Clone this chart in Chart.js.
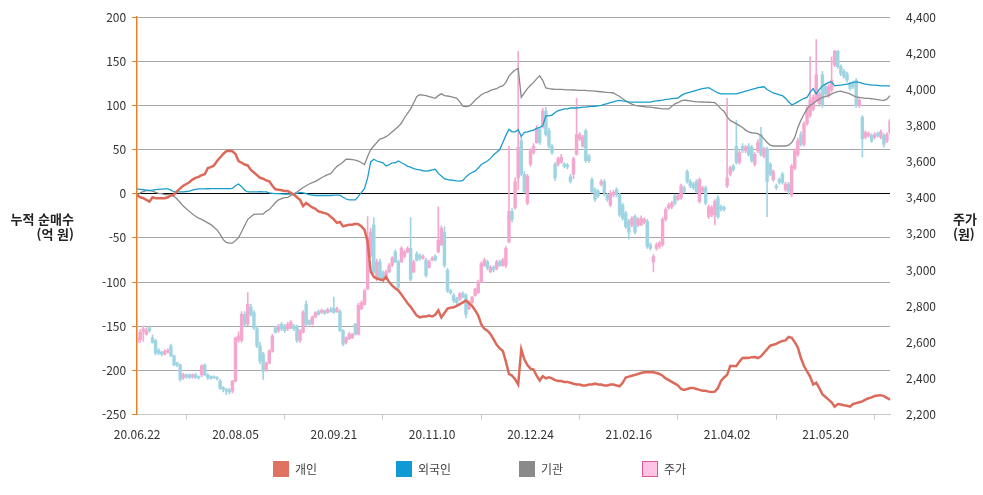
<!DOCTYPE html>
<html lang="ko">
<head>
<meta charset="UTF-8">
<title>누적 순매수와 주가</title>
<script src="https://cdn.jsdelivr.net/npm/chart.js"></script>
<style>
  body { margin: 0; background: #fff; font-family: 'Noto Sans CJK KR', 'Noto Sans', sans-serif; }
  #wrap { position: relative; width: 983px; height: 495px; }
  .axis-title { position: absolute; font-size: 13px; font-weight: bold; color: #222; line-height: 15px; }
  #legend { position: absolute; left: 273px; top: 460px; display: flex; }
  #legend .item { width: 123px; display: flex; align-items: center; font-size: 12px; color: #444; }
  #legend .box { width: 16px; height: 16px; margin-right: 6px; box-sizing: border-box; }
</style>
</head>
<body>
<div id="wrap">
  <canvas id="chart" width="983" height="495"></canvas>
  <div class="axis-title" style="left:0; top:211px; width:74px; text-align:right">누적 순매수<br>(억 원)</div>
  <div class="axis-title" style="left:953px; top:211px">주가<br>(원)</div>
  <div id="legend"></div>
</div>

<script>
  // x축: 거래일 순번, 32거래일마다 날짜 표시
  const tickLabels = ['20.06.22', '20.08.05', '20.09.21', '20.11.10', '20.12.24', '21.02.16', '21.04.02', '21.05.20'];
  const tickStep = 32;

  // 누적 순매수 (억 원)
  const indiv = [
    -2, -4, -5, -7, -9, -4, -5, -5, -5, -5,
    -4, -2, -1, 3, 6, 9, 11, 13, 16, 18,
    19, 21, 22, 29, 30, 32, 37, 41, 45, 48,
    48.5, 48, 45, 37, 35, 33, 32, 27, 24, 21,
    18, 17, 15, 14, 9, 5, 4.5, 4, 3, 3,
    1, -1, -4, -7, -14, -10.5, -13, -15.5, -17, -20,
    -21, -22, -23, -26, -29, -33, -32, -37, -36, -35,
    -35, -34, -34.5, -37, -41, -54, -88, -94, -96, -97,
    -98, -94, -100, -104, -107, -109.5, -114, -119, -124, -128,
    -133, -138, -140, -139, -139, -138, -139, -137, -132, -140,
    -135, -130, -129, -128.6, -127, -125, -123, -121, -124, -127,
    -132, -138, -148, -153, -155, -159, -165, -171, -175, -178,
    -190, -204, -206, -210, -216, -176, -187.5, -194, -198, -199,
    -206, -211.5, -206.6, -209, -207.7, -209, -211, -212, -212, -213,
    -213, -214, -215, -216, -216, -217, -217, -216, -216, -215,
    -216, -216, -217, -217, -216, -216, -217, -218, -214, -208,
    -207, -206, -205, -204, -203, -202, -202, -202, -202, -203,
    -204, -206, -209, -211, -213, -215, -217, -221, -222, -221,
    -220, -220, -221, -222, -223, -223, -224, -224.5, -224, -220,
    -212, -208, -205, -195, -195, -195, -190, -186, -185.6, -186,
    -185, -184.8, -186, -184, -180, -176, -172, -171, -170, -168,
    -166.6, -166, -162, -163, -168, -174, -186, -195, -201, -207,
    -216, -214, -220, -227, -230, -233, -236, -241, -238, -238.5,
    -239.5, -240, -241, -238, -237, -236, -235, -233, -231.5, -230.5,
    -229, -228.5, -228, -229, -231, -233
  ];
  const foreign = [
    5.4, 5, 4.5, 4, 3.4, 4, 4.6, 5, 5.2, 5.4,
    5.4, 4, 2, 2, 2, 2, 2.5, 3, 4, 5,
    5.4, 5.5, 5.5, 5.6, 5.7, 5.7, 5.7, 5.7, 5.7, 5.7,
    5.7, 6, 9, 11, 8, 4, 2, 2, 2, 2,
    2.2, 2, 2, 1, 0.5, 0, 0, -0.2, -0.3, -0.3,
    -0.3, -0.3, 0.5, 1.5, 1, 0, -1, -1.5, -2, -2,
    -2, -2, -2, -2, -1.5, -1.7, -1.7, -4, -6, -7,
    -7, -7, -3, 1.5, 6, 18, 36, 39, 37, 36,
    35, 31.4, 33, 35, 35, 37, 35, 33.3, 31, 30,
    28.5, 27.6, 27, 26, 25.6, 26, 27, 27.6, 23, 20,
    17, 16, 15.5, 15, 14.5, 14.3, 15, 19, 22, 24,
    25.6, 29, 33, 35, 37, 40, 44, 47, 50, 58,
    66, 73, 70, 70, 72.5, 65, 69.5, 70, 71, 72,
    74, 75, 77, 88, 88, 89, 92, 94, 95, 96,
    96, 97, 97, 97, 97.5, 98, 98, 98.5, 99, 99,
    99.5, 100, 101, 102, 103, 104, 105, 105.6, 105, 104.5,
    104, 103.7, 103.7, 103.7, 103.7, 103.7, 103.7, 103.7, 104.5, 105,
    105.5, 106, 106.7, 107, 107.5, 108, 108.3, 111, 113, 114,
    115, 116, 117, 118, 119, 119.5, 120, 118, 116, 114,
    113, 113, 113, 113, 113, 113, 114, 115, 116, 117,
    118, 119, 120, 120.5, 121, 118, 116, 114, 113, 112,
    111, 108, 104, 100.6, 102, 104, 106, 108, 109, 115,
    119, 113, 118, 122, 124, 126, 126.6, 122, 122.5, 123,
    123.5, 124, 125, 126, 126.6, 126, 125, 124, 123.5, 123,
    123, 122.5, 122, 122, 122, 122
  ];
  const inst = [
    -2, 1, 2.5, 3.5, 3.8, 3, 1.5, 0.5, 0, -1,
    -1, -2, -3, -6, -10, -14, -17, -20, -23, -25.5,
    -27.6, -29, -31, -33, -35, -38, -41, -46, -52, -55,
    -56, -56, -53, -49.7, -43, -36, -29, -26, -23.5, -23,
    -23, -23, -20, -18, -14, -10, -7, -5.5, -4.5, -4.2,
    -2, 0, 2, 4.5, 7, 9, 11, 12.5, 14, 16,
    18, 20, 21.5, 22.6, 27, 31, 33, 36, 39, 39,
    38.5, 38, 37, 35, 33, 42, 50, 54, 58, 61.8,
    63, 64.5, 67, 70, 73, 76, 80, 86, 91, 96,
    103, 110, 112, 111.5, 111, 110, 109, 108, 111, 113,
    111, 110.6, 110, 109, 108, 104, 99, 98.5, 99, 102,
    106, 109, 112, 114, 115, 117, 118, 119, 121, 122,
    126, 133, 137, 140, 141.8, 109, 114, 119, 122.7, 126,
    130, 133.4, 128, 119.7, 119, 118.5, 118, 118, 118, 117.8,
    117.6, 117.5, 117.4, 117.2, 117, 117, 117, 116.5, 116.3, 116,
    115.7, 115.4, 115, 114.6, 114.3, 114, 112, 110, 107.5, 105,
    103, 101.5, 100, 99.5, 99, 98.5, 98, 98, 97.5, 97,
    96.5, 96, 96, 96, 99, 101.8, 103, 105, 106, 105.5,
    105, 104.4, 104, 104, 103.8, 103.6, 103.5, 103.3, 103, 100,
    96, 93, 87, 83, 81, 79, 77, 75, 72, 70,
    69, 68.5, 68, 66, 62, 58, 55, 54, 54, 54,
    54, 54, 55, 58, 63.7, 75, 83, 90, 96, 100,
    102, 105, 107, 109, 110, 111, 113, 114.5, 115.5, 116,
    115, 114, 113, 111, 109.5, 109, 108.5, 108, 107.8, 107.5,
    107, 106.5, 106, 105.6, 107, 111
  ];

  // 주가 (원): 시가 / 고가 / 저가 / 종가
  const priceOpen = [
    2600, 2615, 2660, 2645, 2680, 2625, 2610, 2555, 2545, 2535,
    2545, 2580, 2525, 2485, 2475, 2405, 2420, 2420, 2410, 2420,
    2410, 2420, 2475, 2420, 2410, 2410, 2405, 2385, 2350, 2340,
    2335, 2330, 2385, 2610, 2610, 2755, 2700, 2795, 2765, 2675,
    2580, 2535, 2450, 2485, 2550, 2680, 2665, 2700, 2690, 2675,
    2680, 2690, 2690, 2610, 2655, 2810, 2720, 2700, 2740, 2770,
    2765, 2775, 2765, 2780, 2790, 2770, 2770, 2665, 2600, 2620,
    2625, 2700, 2645, 2785, 2810, 2895, 3080, 3250, 2950, 3045,
    2985, 2950, 2990, 3025, 3100, 3045, 3045, 3075, 3100, 3120,
    2990, 3090, 3080, 3065, 3055, 3015, 3055, 3075, 3100, 3140,
    3210, 3000, 2885, 2860, 2840, 2840, 2870, 2860, 2785, 2820,
    2860, 2875, 2935, 3025, 3045, 2990, 3015, 3010, 3045, 3025,
    3025, 3155, 3325, 3345, 3510, 3715, 3530, 3370, 3585, 3650,
    3705, 3780, 3790, 3880, 3770, 3685, 3585, 3585, 3595, 3585,
    3580, 3515, 3530, 3640, 3725, 3685, 3770, 3630, 3500, 3445,
    3435, 3475, 3490, 3415, 3360, 3415, 3445, 3415, 3360, 3315,
    3270, 3250, 3295, 3250, 3250, 3265, 3270, 3140, 3045, 3120,
    3130, 3140, 3280, 3345, 3350, 3410, 3390, 3400, 3455, 3545,
    3490, 3475, 3490, 3380, 3435, 3455, 3295, 3305, 3305, 3400,
    3350, 3345, 3465, 3530, 3575, 3685, 3595, 3685, 3660, 3685,
    3680, 3585, 3660, 3750, 3630, 3670, 3585, 3500, 3465, 3500,
    3530, 3445, 3475, 3415, 3565, 3640, 3750, 3695, 3810, 3855,
    3890, 3940, 3920, 4080, 4015, 3965, 3995, 4135, 4210, 4125,
    4100, 4085, 4030, 4030, 4050, 3910, 3845, 3735, 3745, 3745,
    3735, 3755, 3735, 3745, 3715, 3760
  ];
  const priceHigh = [
    2740, 2670, 2690, 2680, 2690, 2640, 2615, 2565, 2550, 2560,
    2565, 2590, 2530, 2490, 2480, 2430, 2425, 2425, 2425, 2430,
    2415, 2475, 2480, 2425, 2415, 2415, 2410, 2395, 2355, 2345,
    2345, 2390, 2630, 2660, 2770, 2770, 2875, 2810, 2775, 2690,
    2600, 2545, 2490, 2560, 2645, 2690, 2700, 2710, 2700, 2710,
    2720, 2700, 2695, 2670, 2775, 2830, 2725, 2745, 2770, 2780,
    2785, 2780, 2790, 2795, 2850, 2795, 2780, 2670, 2630, 2655,
    2650, 2705, 2815, 2830, 2895, 3295, 3230, 3290, 3060, 3060,
    2995, 3000, 3035, 3075, 3110, 3055, 3130, 3110, 3130, 3290,
    3055, 3100, 3090, 3085, 3065, 3055, 3075, 3085, 3350, 3245,
    3240, 3010, 2895, 2870, 2850, 2875, 2880, 2870, 2830, 2855,
    2900, 2945, 3045, 3065, 3055, 3025, 3025, 3055, 3055, 3065,
    3130, 3685, 3340, 3510, 4210, 3740, 3545, 3530, 3670, 3700,
    3800, 3790, 3895, 3900, 3785, 3695, 3595, 3625, 3640, 3595,
    3590, 3530, 3625, 3950, 3760, 3745, 3780, 3640, 3510, 3455,
    3445, 3500, 3500, 3425, 3440, 3440, 3455, 3425, 3370, 3325,
    3280, 3295, 3305, 3290, 3300, 3290, 3280, 3150, 3085, 3150,
    3160, 3290, 3345, 3370, 3380, 3420, 3420, 3475, 3465, 3555,
    3500, 3485, 3500, 3510, 3465, 3465, 3360, 3355, 3390, 3410,
    3360, 3355, 3950, 3575, 3585, 3830, 3660, 3700, 3690, 3700,
    3690, 3650, 3720, 3790, 3680, 3680, 3595, 3555, 3475, 3510,
    3540, 3485, 3485, 3585, 3670, 3730, 3765, 3820, 3905, 4180,
    3970, 4275, 3985, 4100, 4030, 4030, 4180, 4215, 4215, 4135,
    4110, 4095, 4040, 4045, 4060, 3950, 3855, 3770, 3765, 3755,
    3760, 3765, 3775, 3755, 3760, 3835
  ];
  const priceLow = [
    2590, 2600, 2605, 2640, 2655, 2595, 2530, 2530, 2525, 2530,
    2540, 2520, 2470, 2465, 2385, 2395, 2400, 2400, 2400, 2400,
    2395, 2410, 2415, 2395, 2395, 2400, 2390, 2340, 2325, 2310,
    2315, 2320, 2380, 2600, 2600, 2690, 2690, 2745, 2670, 2570,
    2480, 2395, 2440, 2480, 2545, 2650, 2655, 2665, 2655, 2665,
    2675, 2665, 2600, 2600, 2650, 2690, 2695, 2695, 2735, 2750,
    2760, 2755, 2760, 2765, 2760, 2765, 2660, 2580, 2590, 2615,
    2620, 2640, 2640, 2780, 2805, 2890, 3070, 2980, 2940, 2940,
    2935, 2945, 2985, 3020, 3040, 2895, 3040, 3065, 3095, 2940,
    2985, 3050, 3055, 3060, 2960, 3010, 3050, 3050, 3095, 3135,
    3015, 2875, 2865, 2820, 2810, 2830, 2845, 2735, 2780, 2815,
    2855, 2870, 2930, 3020, 3000, 2985, 2990, 3000, 3020, 3020,
    3015, 3150, 3265, 3335, 3445, 3520, 3425, 3360, 3575, 3640,
    3700, 3695, 3785, 3740, 3675, 3640, 3495, 3575, 3590, 3565,
    3560, 3480, 3505, 3635, 3715, 3680, 3595, 3595, 3425, 3380,
    3400, 3465, 3410, 3380, 3350, 3405, 3405, 3295, 3275, 3230,
    3170, 3240, 3200, 3240, 3245, 3255, 3120, 3110, 2990, 3110,
    3120, 3130, 3270, 3335, 3340, 3360, 3385, 3390, 3425, 3480,
    3455, 3445, 3425, 3370, 3425, 3360, 3285, 3295, 3250, 3285,
    3325, 3325, 3455, 3520, 3545, 3585, 3585, 3650, 3650, 3630,
    3595, 3575, 3650, 3630, 3620, 3295, 3520, 3490, 3445, 3475,
    3475, 3435, 3420, 3405, 3555, 3630, 3685, 3685, 3800, 3845,
    3880, 3930, 3905, 3900, 3965, 3955, 3985, 4125, 4115, 4075,
    4060, 4040, 3995, 4005, 3900, 3900, 3625, 3725, 3735, 3705,
    3725, 3735, 3725, 3680, 3705, 3750
  ];
  const priceClose = [
    2625, 2655, 2675, 2665, 2665, 2600, 2540, 2540, 2535, 2550,
    2555, 2525, 2475, 2475, 2395, 2420, 2410, 2405, 2420, 2405,
    2405, 2470, 2420, 2405, 2400, 2405, 2400, 2345, 2340, 2330,
    2325, 2385, 2625, 2635, 2755, 2700, 2810, 2755, 2680, 2580,
    2495, 2440, 2485, 2550, 2635, 2655, 2690, 2675, 2665, 2700,
    2710, 2675, 2610, 2665, 2765, 2700, 2700, 2740, 2765, 2755,
    2775, 2760, 2780, 2770, 2765, 2785, 2665, 2590, 2625, 2645,
    2645, 2645, 2805, 2820, 2885, 3175, 3210, 2990, 3045, 2950,
    2945, 2990, 3025, 3065, 3045, 2905, 3120, 3100, 3120, 2950,
    3045, 3055, 3065, 3075, 2970, 3045, 3065, 3055, 3165, 3230,
    3025, 2885, 2875, 2830, 2820, 2870, 2850, 2755, 2820, 2850,
    2895, 2935, 3035, 3055, 3010, 3015, 3000, 3045, 3025, 3055,
    3120, 3325, 3280, 3490, 3680, 3530, 3435, 3520, 3660, 3685,
    3780, 3705, 3880, 3750, 3685, 3650, 3510, 3615, 3625, 3575,
    3570, 3490, 3615, 3750, 3750, 3735, 3605, 3605, 3435, 3390,
    3410, 3490, 3425, 3390, 3425, 3430, 3415, 3305, 3285, 3240,
    3210, 3285, 3210, 3280, 3285, 3280, 3130, 3120, 3075, 3140,
    3150, 3280, 3335, 3360, 3370, 3370, 3410, 3465, 3435, 3490,
    3465, 3455, 3435, 3500, 3455, 3370, 3350, 3345, 3380, 3295,
    3335, 3335, 3510, 3565, 3555, 3595, 3650, 3660, 3680, 3640,
    3605, 3640, 3705, 3640, 3670, 3490, 3530, 3545, 3455, 3485,
    3485, 3475, 3435, 3575, 3660, 3715, 3695, 3810, 3890, 3940,
    3955, 4080, 3975, 3910, 3975, 4015, 4050, 4210, 4125, 4085,
    4070, 4050, 4005, 4015, 3910, 3940, 3725, 3760, 3755, 3715,
    3750, 3745, 3765, 3695, 3750, 3825
  ];

  const seriesNames = ['개인', '외국인', '기관'];
  const seriesColors = ['#dc6a5b', '#1a9dcb', '#8a8a8a'];
  const legendColors = ['#e07262', '#0f9ad6', '#8a8a8a'];
  const upColor = '#f5a8cf';
  const downColor = '#9fd5e3';

  const labels = indiv.map((_, i) => i);
  const candleColors = priceClose.map((c, i) => c >= priceOpen[i] ? upColor : downColor);

  const lineSets = [indiv, foreign, inst].map((values, k) => ({
    type: 'line',
    label: seriesNames[k],
    data: values,
    yAxisID: 'y',
    borderColor: seriesColors[k],
    borderWidth: k === 0 ? 2.5 : 1.3,
    pointRadius: 0,
    tension: 0,
    order: k
  }));

  const data = {
    labels: labels,
    datasets: lineSets.concat([
      {
        type: 'bar',
        label: '주가 고저',
        data: priceLow.map((lo, i) => [lo, priceHigh[i]]),
        yAxisID: 'y2',
        backgroundColor: candleColors,
        barThickness: 1,
        grouped: false,
        order: 10
      },
      {
        type: 'bar',
        label: '주가',
        data: priceOpen.map((o, i) => [o, priceClose[i]]),
        yAxisID: 'y2',
        backgroundColor: candleColors,
        barThickness: 2.8,
        minBarLength: 1,
        grouped: false,
        order: 9
      }
    ])
  };

  const tickFont = { family: "'Noto Sans CJK KR', 'Noto Sans', sans-serif", size: 12 };

  const config = {
    data: data,
    options: {
      responsive: false,
      devicePixelRatio: 1,
      animation: false,
      layout: { padding: { left: 96, right: 39, top: 17, bottom: 45 } },
      plugins: {
        legend: { display: false },
        tooltip: { enabled: false }
      },
      scales: {
        x: {
          type: 'category',
          offset: false,
          grid: { display: true, drawOnChartArea: false, tickLength: 5, color: '#c8c8c8' },
          border: { color: '#c8c8c8' },
          ticks: {
            autoSkip: false,
            maxRotation: 0,
            padding: 8,
            color: '#333',
            font: tickFont,
            callback: (value, index) => index % tickStep === 0 ? tickLabels[index / tickStep] : null
          }
        },
        y: {
          position: 'left',
          min: -250,
          max: 200,
          grid: {
            color: ctx => ctx.tick && ctx.tick.value === 0 ? '#000' : '#a8a8a8',
            tickColor: '#e8802a',
            tickLength: 5
          },
          border: { color: '#e8802a', width: 1.5 },
          ticks: { stepSize: 50, padding: 6, color: '#333', font: tickFont }
        },
        y2: {
          position: 'right',
          min: 2200,
          max: 4400,
          grid: { display: false },
          border: { display: false },
          ticks: {
            stepSize: 200,
            padding: 8,
            color: '#333',
            font: tickFont,
            callback: v => v.toLocaleString('en-US')
          }
        }
      }
    }
  };

  new Chart(document.getElementById('chart'), config);

  // 범례
  const legend = document.getElementById('legend');
  const legendItems = seriesNames.map((name, k) => ({ name: name, fill: legendColors[k], stroke: legendColors[k] }))
    .concat([{ name: '주가', fill: '#ffc4e4', stroke: '#e0559f' }]);
  legendItems.forEach(item => {
    const el = document.createElement('div');
    el.className = 'item';
    el.innerHTML = '<span class="box" style="background:' + item.fill + ';border:1px solid ' + item.stroke + '"></span>' + item.name;
    legend.appendChild(el);
  });
</script>
</body>
</html>
